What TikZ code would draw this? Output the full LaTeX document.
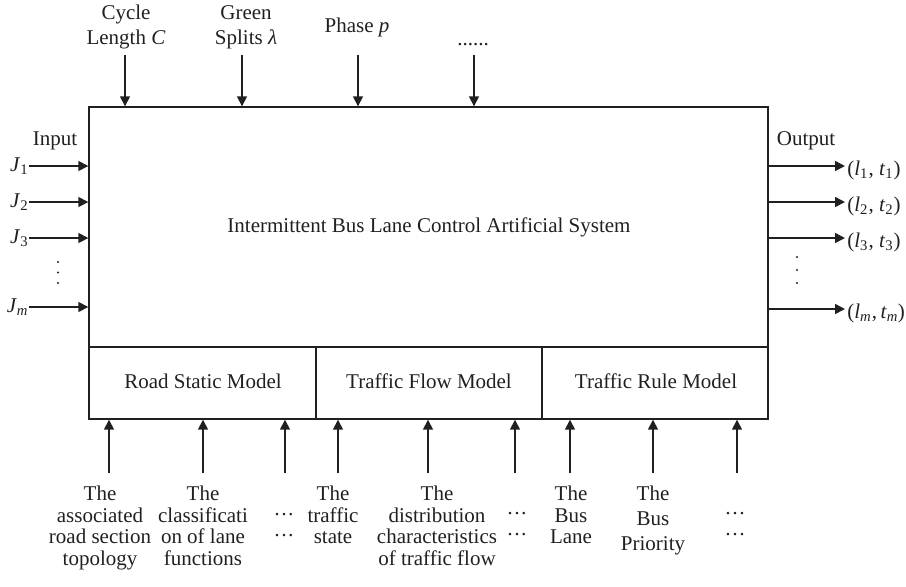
\documentclass[tikz,border=0pt]{standalone}
\usepackage{fontspec}
\setmainfont{Liberation Serif}
\usetikzlibrary{arrows.meta,positioning,fit}
\definecolor{inkBlack}{RGB}{35,31,32}

\tikzset{
  lbl/.style={text=inkBlack, inner sep=0pt, align=center, font=\fontsize{10.5}{10.75}\selectfont},
  toplbl/.style={lbl, font=\fontsize{10.5}{12.5}\selectfont},
  modelbox/.style={draw=inkBlack, line width=0.7pt, inner sep=0pt},
  flowarrow/.style={draw=inkBlack, line width=0.8pt, -{Triangle[length=5pt,width=5pt]}},
}

\begin{document}
\begin{tikzpicture}[x=0.5pt, y=-0.5pt]
\useasboundingbox (0,0) rectangle (906,586);

% system box and its three models
\node[modelbox, fit={(89,107) (768,347)}] (sys) {};
\node[modelbox, fit={(89,347) (316,419)}] (road) {};
\node[modelbox, fit={(316,347) (542,419)}] (flow) {};
\node[modelbox, fit={(542,347) (768,419)}] (rule) {};
\node[lbl, anchor=base] (systxt) at (429,232) {Intermittent Bus Lane Control Artificial System};
\node[lbl, anchor=base] (roadtxt) at (203,388) {Road Static Model};
\node[lbl, anchor=base] (flowtxt) at (429,388) {Traffic Flow Model};
\node[lbl, anchor=base] (ruletxt) at (656,388) {Traffic Rule Model};

% control parameters on top
\node[toplbl, anchor=north] (cyc) at (126,5) {Cycle\\Length \textit{C}};
\node[toplbl, anchor=north] (grn) at (246,5) {Green\\Splits \textit{λ}};
\node[toplbl, anchor=base] (pha) at (357,32) {Phase \textit{p}};
\node[toplbl, anchor=base] (etc) at (473,45) {......};
\foreach \x/\n in {125/cyc,242/grn,358/pha,474/etc} {
  \coordinate (\n-in) at (\x,55);
  \draw[flowarrow] (\n-in) -- (\n-in |- sys.north);
}

% inputs
\node[lbl, anchor=base] (input) at (55,145) {Input};
\foreach \y/\k/\s in {166/1/1,202/2/2,238/3/3,307/m/\textit{m}} {
  \node[lbl, anchor=east] (j\k) at (29,\y) {\textit{J}\textsubscript{\s}};
  \draw[flowarrow] (j\k) -- (j\k -| sys.west);
}
\foreach \y in {262,272.5,283} \fill[inkBlack] (58,\y) circle (0.6pt);

% outputs
\node[lbl, anchor=base] (output) at (806,145) {Output};
\foreach \y/\k/\s in {166/1/1,202/2/2,238/3/3} {
  \coordinate (oe\k) at (845,\y);
  \node[lbl, anchor=west] (o\k) at (847,{\y+4}) {(\textit{l}\textsubscript{\s}, \textit{t}\textsubscript{\s})};
  \draw[flowarrow] (oe\k -| sys.east) -- (oe\k);
}
\coordinate (oem) at (845,309);
\node[lbl, anchor=west] (om) at (847,313) {(\textit{l}\textsubscript{\textit{m}},\,\textit{t}\textsubscript{\textit{m}}\kern-0.3pt)};
\draw[flowarrow] (oem -| sys.east) -- (oem);
\foreach \y in {257,270,283} \fill[inkBlack] (797,\y) circle (0.6pt);

% model inputs below
\foreach \x/\m in {109/road,203/road,285/road,338/flow,428/flow,515/flow,570/rule,653/rule,737/rule} {
  \coordinate (b\x) at (\x,473);
  \draw[flowarrow] (b\x) -- (b\x |- \m.south);
}
\node[lbl, anchor=north] (rs1) at (100,486) {The\\associated\\road section\\topology};
\node[lbl, anchor=north] (rs2) at (203,486) {The\\classificati\\on of lane\\functions};
\node[lbl] (rs3) at (284,528) {···\\···};
\node[lbl, anchor=north] (tf1) at (333,486) {The\\traffic\\state};
\node[lbl, anchor=north] (tf2) at (437,486) {The\\distribution\\characteristics\\of traffic flow};
\node[lbl] (tf3) at (517,527) {···\\···};
\node[lbl, anchor=north] (tr1) at (571,486) {The\\Bus\\Lane};
\node[lbl, anchor=north] (tr2) at (653,486) {The\\[1.75pt]Bus\\[1.75pt]Priority};
\node[lbl] (tr3) at (735,527) {···\\···};
\end{tikzpicture}
\end{document}
